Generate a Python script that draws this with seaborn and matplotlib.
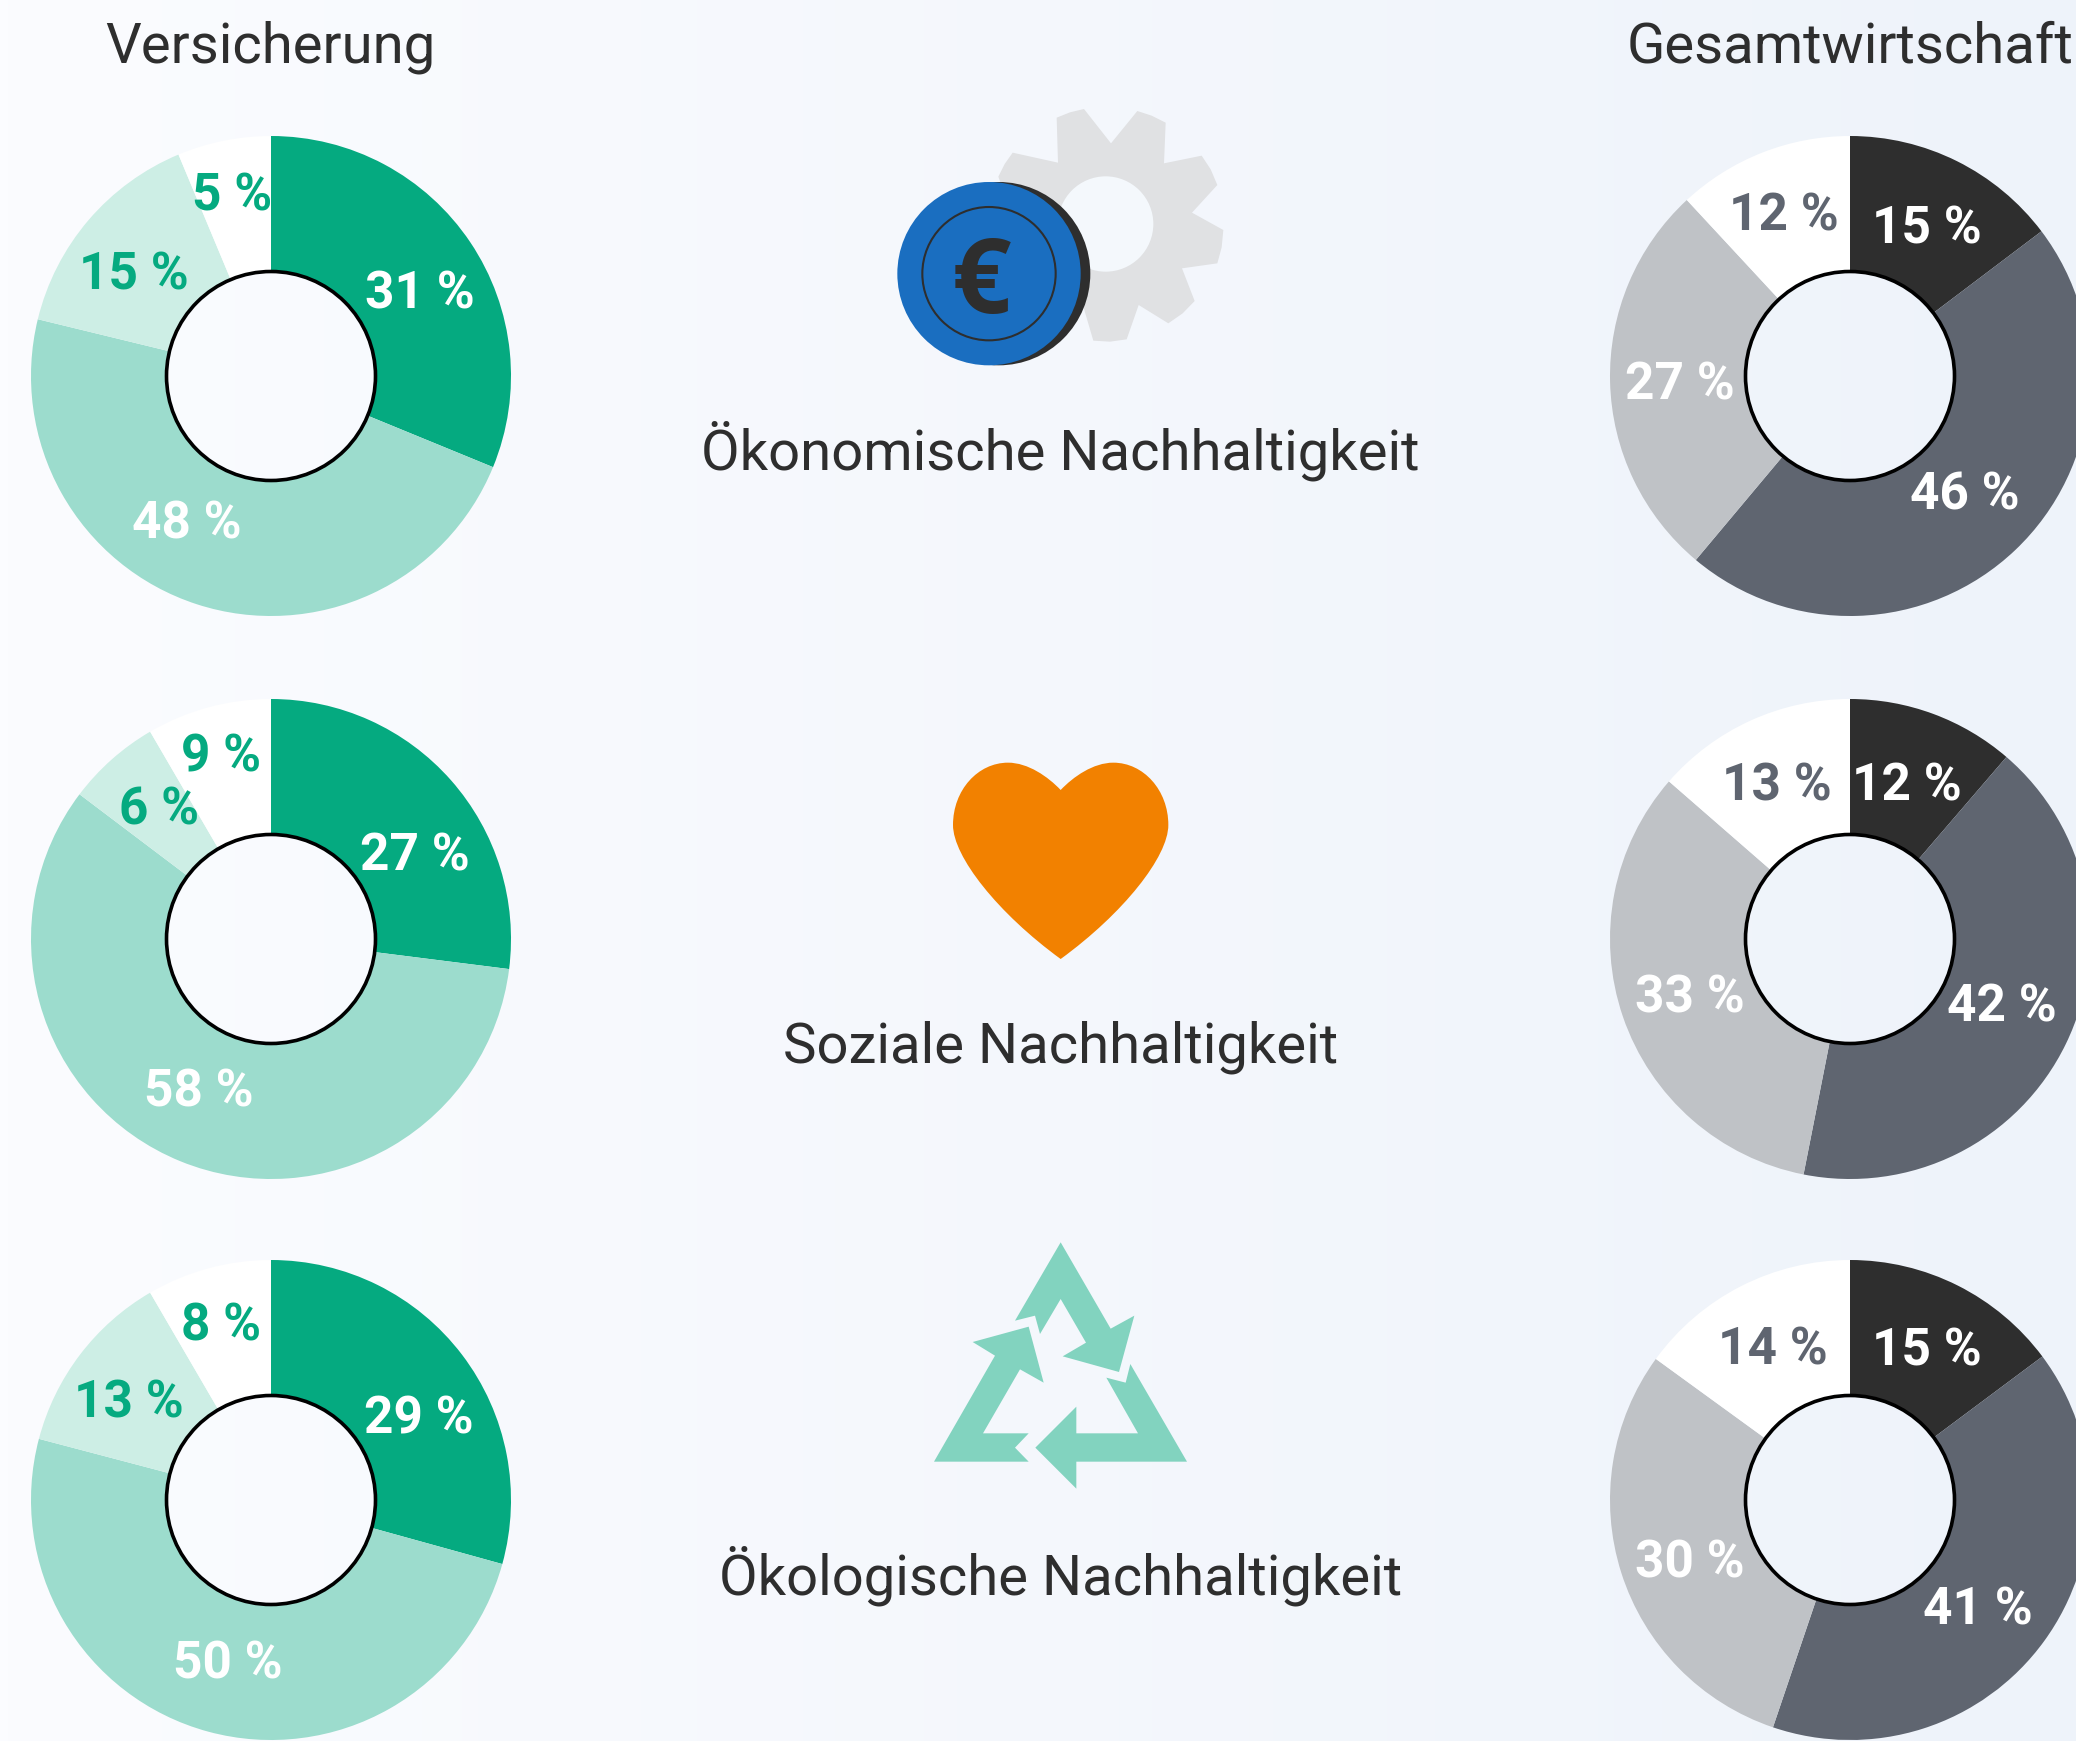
#!/usr/bin/env python
# coding: utf-8

import numpy as np
import seaborn as sns
import matplotlib
matplotlib.use("Agg")
import matplotlib.pyplot as plt
from matplotlib.patches import Circle, Polygon, PathPatch
from matplotlib.path import Path

W, H = 2076, 1741
SCALE = W / 1568  # label positions below were read on the shrunk picture

versicherung_oek = [31.2, 47.6, 14.9, 6.3]
versicherung_soz = [27, 58.3, 6.3, 8.4]
versicherung_oko = [29.3, 49.8, 12.5, 8.4]
gesamt_oek = [14.7, 46.4, 27, 11.9]
gesamt_soz = [11.3, 41.8, 33.3, 13.6]
gesamt_oko = [14.8, 40.4, 29.8, 15]

# printed labels
versicherung_oek_labels = ["31 %", "48 %", "15 %", "5 %"]
versicherung_soz_labels = ["27 %", "58 %", "6 %", "9 %"]
versicherung_oko_labels = ["29 %", "50 %", "13 %", "8 %"]
gesamt_oek_labels = ["15 %", "46 %", "27 %", "12 %"]
gesamt_soz_labels = ["12 %", "42 %", "33 %", "13 %"]
gesamt_oko_labels = ["15 %", "41 %", "30 %", "14 %"]

column_titles = ["Versicherung", "Gesamtwirtschaft"]
row_titles = ["Ökonomische Nachhaltigkeit", "Soziale Nachhaltigkeit", "Ökologische Nachhaltigkeit"]

# where each label sits
label_pos = {
    "v0": [(317, 218), (141, 392), (101, 204), (175, 144)],
    "v1": [(313, 643), (150, 821), (120, 608), (167, 568)],
    "v2": [(316, 1068), (172, 1253), (97, 1056), (167, 998)],
    "g0": [(1455, 169), (1484, 370), (1269, 287), (1347, 159)],
    "g1": [(1440, 590), (1512, 757), (1276, 750), (1342, 590)],
    "g2": [(1455, 1017), (1494, 1212), (1276, 1177), (1339, 1016)],
}

sns.set_theme(style="white")
plt.rcParams['font.family'] = ['Roboto', 'DejaVu Sans']

DARK = "#2e2e2e"
GREEN = "#05aa80"
SLATE = "#5f6570"
green_pal = sns.color_palette([GREEN, "#9cdccd", "#cdeee5", "#ffffff"])
grey_pal = sns.color_palette([DARK, SLATE, "#bfc2c6", "#ffffff"])
green_txt = ["white", "white", GREEN, GREEN]
grey_txt = ["white", "white", "white", SLATE]

fig = plt.figure(figsize=(W / 100, H / 100), dpi=100)

# page: pixel coordinates, faint horizontal gradient behind everything
bg = fig.add_axes([0, 0, 1, 1])
bg.axis("off")
grad = np.linspace([251, 252, 255], [238, 243, 250], 256)[np.newaxis, :, :] / 255
bg.imshow(grad, extent=[0, W, H, 0], aspect="auto", zorder=0)
bg.set_xlim(0, W)
bg.set_ylim(H, 0)


def donut(cx, cy, values, labels, pal, txt, key):
    r = 240
    ax = fig.add_axes([(cx - r) / W, 1 - (cy + r) / H, 2 * r / W, 2 * r / H])
    ax.pie(values, colors=pal, startangle=90, counterclock=False, radius=1,
           normalize=True, wedgeprops=dict(width=1 - 104.5 / r, linewidth=0))
    ax.set_xlim(-1, 1)
    ax.set_ylim(-1, 1)
    ax.add_patch(Circle((0, 0), 104.5 / r, fill=False, edgecolor="black", linewidth=2.6))
    ax.patch.set_alpha(0)
    for lab, c, (x, y) in zip(labels, txt, label_pos[key]):
        fig.text(x * SCALE / W, 1 - y * SCALE / H, lab, color=c, fontsize=37,
                 fontweight="bold", ha="center", va="center_baseline")


for cy, vv, vl, gv, gl, k in [
    (376, versicherung_oek, versicherung_oek_labels, gesamt_oek, gesamt_oek_labels, "0"),
    (939, versicherung_soz, versicherung_soz_labels, gesamt_soz, gesamt_soz_labels, "1"),
    (1500, versicherung_oko, versicherung_oko_labels, gesamt_oko, gesamt_oko_labels, "2"),
]:
    donut(271, cy, vv, vl, green_pal, green_txt, "v" + k)
    donut(1850, cy, gv, gl, grey_pal, grey_txt, "g" + k)

# titles
for t, x in zip(column_titles, [204, 1397]):
    bg.text(x * SCALE, 31 * SCALE, t, color=DARK, fontsize=40.5, ha="center", va="center_baseline")
for t, y in zip(row_titles, [336, 787, 1186]):
    bg.text(801 * SCALE, y * SCALE, t, color=DARK, fontsize=40.5, ha="center", va="center_baseline")


# icons, outlines traced in 3x zoom coordinates
def zoomed(pts, x0, y0):
    return [(x0 + px / 3, y0 + py / 3) for px, py in pts]


gear = [(590, 83), (630, 67), (672, 57), (753, 160), (832, 63), (875, 77), (917, 98), (912, 220), (1025, 197),
        (1052, 238), (1072, 285), (996, 368), (1090, 420), (1085, 472), (1072, 520), (966, 535), (1004, 633),
        (968, 670), (925, 700), (836, 645), (800, 748), (750, 755), (700, 752), (670, 650), (500, 500), (415, 260),
        (434, 222), (458, 188), (594, 218)]
bg.add_patch(Polygon(zoomed(gear, 860, 90), closed=True, facecolor="#e0e1e3", edgecolor="none", zorder=2))
bg.add_patch(Circle((860 + 737 / 3, 90 + 402 / 3), 143 / 3, facecolor="#f4f8fc", edgecolor="none", zorder=3))
bg.add_patch(Circle((860 + 416 / 3, 90 + 551 / 3), 275 / 3, facecolor=DARK, edgecolor="none", zorder=4))
bg.add_patch(Circle((860 + 387 / 3, 90 + 551 / 3), 275 / 3, facecolor="#1a6ec0", edgecolor="none", zorder=5))
bg.add_patch(Circle((860 + 387 / 3, 90 + 551 / 3), 200 / 3, fill=False, edgecolor=DARK, linewidth=1.5, zorder=6))
bg.text(860 + 363 / 3, 90 + 550 / 3, "€", color=DARK, fontsize=75, fontweight="bold", family="Open Sans",
        ha="center", va="center_baseline", zorder=7)

heart_pts = [(392, 150), (430, 110), (490, 68), (550, 68), (640, 68), (715, 150), (715, 255), (715, 350), (580, 520),
             (392, 657), (204, 520), (69, 350), (69, 255), (69, 150), (144, 68), (234, 68), (294, 68), (354, 110),
             (392, 150)]
heart = Path(zoomed(heart_pts, 930, 740), [Path.MOVETO] + [Path.CURVE4] * 18)
bg.add_patch(PathPatch(heart, facecolor="#f28100", edgecolor="none", zorder=2))

arrows = [
    [(345, 302), (482, 67), (632, 326), (703, 287), (657, 456), (488, 409), (558, 368), (482, 237), (420, 342), (405, 287)],
    [(386, 320), (431, 488), (360, 448), (249, 640), (386, 640), (345, 683), (386, 725), (102, 725), (285, 407), (218, 366)],
    [(691, 432), (861, 725), (529, 725), (529, 806), (406, 683), (529, 560), (529, 640), (714, 640), (619, 473), (677, 488)],
]
for a in arrows:
    bg.add_patch(Polygon(zoomed(a, 900, 1220), closed=True, facecolor="#82d3bf", edgecolor="none", zorder=2))

plt.savefig("out.png", dpi=100)
